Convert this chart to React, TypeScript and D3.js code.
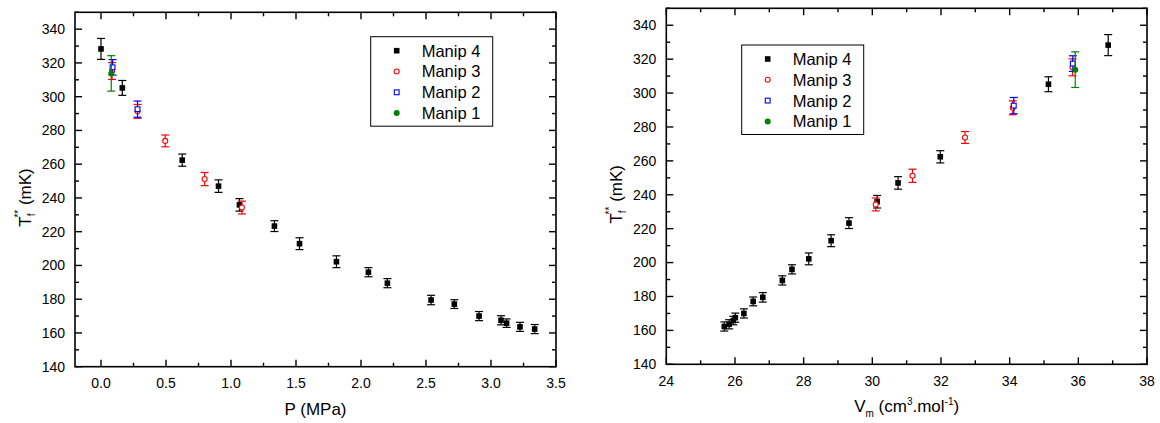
import React from "react";
import * as d3 from "d3";

// ---------- data ----------
const seriesNames = ["Manip 4", "Manip 3", "Manip 2", "Manip 1"];

// Manip 4
const m4P = [0.0, 0.164, 0.625, 0.904, 1.065, 1.334, 1.527, 1.811, 2.057, 2.203, 2.539, 2.718, 2.908, 3.077, 3.12, 3.223, 3.336];
const m4Vm = [36.87, 35.13, 31.98, 30.75, 30.14, 29.32, 28.8, 28.15, 27.66, 27.38, 26.81, 26.53, 26.26, 26.01, 25.95, 25.83, 25.69];
const m4T = [328.3, 305.2, 262.4, 247.0, 235.9, 223.3, 212.9, 202.2, 196.0, 189.5, 179.5, 177.1, 170.0, 167.5, 165.8, 163.6, 162.3];
const m4Err = [6.2, 4.4, 3.6, 3.7, 3.7, 3.2, 3.5, 3.5, 2.7, 2.7, 2.8, 2.6, 2.7, 2.7, 2.5, 2.7, 2.7];

// Manip 3
const m3P = [0.085, 0.281, 0.494, 0.797, 1.084];
const m3Vm = [35.83, 34.09, 32.7, 31.17, 30.1];
const m3T = [315.2, 291.3, 273.8, 251.2, 234.3];
const m3Err = [5.0, 4.1, 3.5, 3.9, 3.8];

// Manip 2
const m2P = [0.089, 0.281];
const m2Vm = [35.84, 34.12];
const m2T = [317.4, 292.6];
const m2Err = [4.6, 4.8];

// Manip 1
const m1P = [0.079];
const m1Vm = [35.91];
const m1T = [313.8];
const m1Err = [10.5];

// axes
const leftXDomain = [-0.2, 3.5];
const leftXTicks = [0.0, 0.5, 1.0, 1.5, 2.0, 2.5, 3.0, 3.5];
const rightXDomain = [24, 38];
const rightXTicks = [24, 26, 28, 30, 32, 34, 36, 38];
const yDomain = [140, 350];
const yTicks = [140, 160, 180, 200, 220, 240, 260, 280, 300, 320, 340];

const FONT = "'Liberation Sans', Arial, Helvetica, sans-serif";

type Series = { name: string; x: number[]; y: number[]; err: number[]; kind: string; color: string };

function Marker({ kind, color, cx, cy }: { kind: string; color: string; cx: number; cy: number }) {
  if (kind === "fsq") return <rect x={cx - 2.8} y={cy - 2.8} width={5.6} height={5.6} fill={color} />;
  if (kind === "osq")
    return <rect x={cx - 2.4} y={cy - 2.4} width={4.8} height={4.8} fill="white" stroke={color} strokeWidth={1.1} />;
  if (kind === "oci") return <circle cx={cx} cy={cy} r={2.5} fill="white" stroke={color} strokeWidth={1.1} />;
  return <circle cx={cx} cy={cy} r={3} fill={color} />;
}

function Panel(props: {
  left: number;
  right: number;
  top: number;
  bottom: number;
  xDomain: number[];
  xTicks: number[];
  xFmt: (v: number) => string;
  series: Series[];
  legendX: number;
  legendY: number;
  xTitle: React.ReactNode;
}) {
  const { left, right, top, bottom, xDomain, xTicks, xFmt, series, legendX, legendY, xTitle } = props;
  const x = d3.scaleLinear().domain(xDomain).range([left, right]);
  const y = d3.scaleLinear().domain(yDomain).range([bottom, top]);
  const xStep = xTicks[1] - xTicks[0];
  const yStep = yTicks[1] - yTicks[0];
  const xMinor = xTicks.slice(0, -1).map((v) => v + xStep / 2).concat([xTicks[0] - xStep / 2]).filter((v) => v >= xDomain[0] && v <= xDomain[1]);
  const yMinor = yTicks.map((v) => v + yStep / 2).filter((v) => v >= yDomain[0] && v <= yDomain[1]);
  const MAJ = 7,
    MIN = 4;
  const axisColor = "#000";
  const sw = 1.6;
  return (
    <g>
      {/* ticks */}
      {xTicks.map((v, i) => (
        <g key={"xt" + i}>
          <line x1={x(v)} x2={x(v)} y1={bottom} y2={bottom - MAJ} stroke={axisColor} strokeWidth={1.4} />
          <line x1={x(v)} x2={x(v)} y1={top} y2={top + MAJ} stroke={axisColor} strokeWidth={1.4} />
          <text x={x(v)} y={bottom + 21.5} textAnchor="middle" fontSize={14} fontFamily={FONT} fill="#000">
            {xFmt(v)}
          </text>
        </g>
      ))}
      {xMinor.map((v, i) => (
        <g key={"xm" + i}>
          <line x1={x(v)} x2={x(v)} y1={bottom} y2={bottom - MIN} stroke={axisColor} strokeWidth={1.4} />
          <line x1={x(v)} x2={x(v)} y1={top} y2={top + MIN} stroke={axisColor} strokeWidth={1.4} />
        </g>
      ))}
      {yTicks.map((v, i) => (
        <g key={"yt" + i}>
          <line x1={left} x2={left + MAJ} y1={y(v)} y2={y(v)} stroke={axisColor} strokeWidth={1.4} />
          <line x1={right} x2={right - MAJ} y1={y(v)} y2={y(v)} stroke={axisColor} strokeWidth={1.4} />
          <text x={left - 10} y={y(v)} dy="0.35em" textAnchor="end" fontSize={14} fontFamily={FONT} fill="#000">
            {d3.format("d")(v)}
          </text>
        </g>
      ))}
      {yMinor.map((v, i) => (
        <g key={"ym" + i}>
          <line x1={left} x2={left + MIN} y1={y(v)} y2={y(v)} stroke={axisColor} strokeWidth={1.4} />
          <line x1={right} x2={right - MIN} y1={y(v)} y2={y(v)} stroke={axisColor} strokeWidth={1.4} />
        </g>
      ))}
      <rect x={left} y={top} width={right - left} height={bottom - top} fill="none" stroke={axisColor} strokeWidth={sw} />

      {/* data */}
      {series.map((s, si) => (
        <g key={"s" + si}>
          {s.x.map((xv, i) => {
            const cx = x(xv);
            const y1 = y(s.y[i] + s.err[i]);
            const y2 = y(s.y[i] - s.err[i]);
            return (
              <g key={i} stroke={s.color} strokeWidth={1.2}>
                <line x1={cx} x2={cx} y1={y1} y2={y2} />
                <line x1={cx - 4} x2={cx + 4} y1={y1} y2={y1} />
                <line x1={cx - 4} x2={cx + 4} y1={y2} y2={y2} />
              </g>
            );
          })}
          {s.x.map((xv, i) => (
            <Marker key={"m" + i} kind={s.kind} color={s.color} cx={x(xv)} cy={y(s.y[i])} />
          ))}
        </g>
      ))}

      {/* legend */}
      <rect x={legendX} y={legendY} width={122} height={89.5} fill="white" stroke="#000" strokeWidth={1} />
      {series.map((s, i) => (
        <g key={"l" + i}>
          <Marker kind={s.kind} color={s.color} cx={legendX + 26} cy={legendY + 14 + i * 20.8} />
          <text x={legendX + 51} y={legendY + 14 + i * 20.8} dy="0.36em" fontSize={16.5} fontFamily={FONT} fill="#000">
            {s.name}
          </text>
        </g>
      ))}

      {/* titles */}
      <text x={(left + right) / 2} y={bottom + 48} textAnchor="middle" fontSize={17} fontFamily={FONT} fill="#000">
        {xTitle}
      </text>
      <text
        transform={`translate(${left - 44},${(top + bottom) / 2 + 8}) rotate(-90)`}
        textAnchor="middle"
        fontSize={17}
        fontFamily={FONT}
        fill="#000"
      >
        T<tspan fontSize={10} dy={4}>f</tspan>
        <tspan fontSize={10} dx={-4} dy={-13}>**</tspan>
        <tspan dy={9}> (mK)</tspan>
      </text>
    </g>
  );
}

export default function App() {
  const colors = ["#000000", "#ff0000", "#0000ff", "#008000"];
  const kinds = ["fsq", "oci", "osq", "fci"];
  const leftSeries: Series[] = [
    { name: seriesNames[0], x: m4P, y: m4T, err: m4Err, kind: kinds[0], color: colors[0] },
    { name: seriesNames[1], x: m3P, y: m3T, err: m3Err, kind: kinds[1], color: colors[1] },
    { name: seriesNames[2], x: m2P, y: m2T, err: m2Err, kind: kinds[2], color: colors[2] },
    { name: seriesNames[3], x: m1P, y: m1T, err: m1Err, kind: kinds[3], color: colors[3] },
  ];
  const rightSeries: Series[] = [
    { name: seriesNames[0], x: m4Vm, y: m4T, err: m4Err, kind: kinds[0], color: colors[0] },
    { name: seriesNames[1], x: m3Vm, y: m3T, err: m3Err, kind: kinds[1], color: colors[1] },
    { name: seriesNames[2], x: m2Vm, y: m2T, err: m2Err, kind: kinds[2], color: colors[2] },
    { name: seriesNames[3], x: m1Vm, y: m1T, err: m1Err, kind: kinds[3], color: colors[3] },
  ];
  return (
    <div style={{ position: "absolute", left: 0, top: 0 }}>
      <svg width={1160} height={423} style={{ display: "block", background: "white" }}>
        <Panel
          left={75}
          right={556}
          top={12.3}
          bottom={366.7}
          xDomain={leftXDomain}
          xTicks={leftXTicks}
          xFmt={d3.format(".1f")}
          series={leftSeries}
          legendX={370.7}
          legendY={36.7}
          xTitle={"P (MPa)"}
        />
        <Panel
          left={666.3}
          right={1147}
          top={8.3}
          bottom={364.3}
          xDomain={rightXDomain}
          xTicks={rightXTicks}
          xFmt={d3.format("d")}
          series={rightSeries}
          legendX={741.7}
          legendY={45}
          xTitle={
            <>
              V<tspan fontSize={10} dy={5}>m</tspan>
              <tspan dy={-5}> (cm</tspan>
              <tspan fontSize={10} dy={-7}>3</tspan>
              <tspan dy={7}>.mol</tspan>
              <tspan fontSize={10} dy={-7}>-1</tspan>
              <tspan dy={7}>)</tspan>
            </>
          }
        />
      </svg>
    </div>
  );
}
